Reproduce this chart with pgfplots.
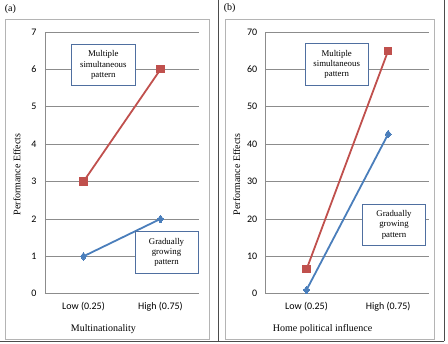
\documentclass[border=0pt]{standalone}
\usepackage{pgfplots}
\pgfplotsset{compat=1.18}
\usepackage{fontspec}
\setmainfont{Liberation Serif}
\newfontfamily\calibri{Carlito}
\definecolor{xred}{HTML}{C0504D}
\definecolor{xblue}{HTML}{4A7EBB}
\definecolor{xgrid}{HTML}{8C8C8C}
\definecolor{xbox}{HTML}{4F6FA0}
\definecolor{xframe}{HTML}{B4B4B4}
\begin{document}
\begin{tikzpicture}
\useasboundingbox (0pt,0pt) rectangle (448pt,344pt);
% panel frames
\draw[xframe,line width=0.9pt] (5pt,5pt) rectangle (209pt,325pt);
\draw[xframe,line width=0.9pt] (225pt,5pt) rectangle (434.5pt,325pt);
\draw[black!70,line width=0.8pt] (218.3pt,2.7pt) -- (218.3pt,344pt);
\draw[black!70,line width=0.8pt] (444.3pt,2.7pt) -- (444.3pt,344pt);
\draw[black!70,line width=0.8pt] (0pt,2.7pt) -- (444.3pt,2.7pt);
\node at (10.3pt,334.7pt) {\fontsize{10}{12}\selectfont (a)};
\node at (229.7pt,335.7pt) {\fontsize{10}{12}\selectfont (b)};

\pgfplotsset{
  myaxis/.style={
    scale only axis,
    anchor=south west,
    height=261.7pt,
    axis x line=bottom, axis y line=left,
    axis line style={xgrid,-,line width=0.7pt},
    xmin=-0.5, xmax=1.5,
    xtick={0,1}, xticklabels={Low (0.25),High (0.75)},
    major tick length=0pt,
    ymajorgrids, grid style={xgrid,line width=0.7pt},
    /pgf/number format/assume math mode=true,
    ticklabel style={font=\calibri\fontsize{10}{12}\selectfont},
    yticklabel style={xshift=-5pt},
    xticklabel style={yshift=-5pt},
    label style={font=\fontsize{10}{12}\selectfont},
    clip=false,
  },
  redline/.style={xred,line width=1.8pt,mark=square*,mark size=3.6pt,mark options={fill=xred,draw=xred,line width=0pt}},
  blueline/.style={xblue,line width=1.8pt,mark=diamond*,mark size=3.9pt,mark options={fill=xblue,draw=xblue,line width=0pt}},
}

\begin{axis}[myaxis,
  at={(45pt,50.3pt)}, width=154pt,
  ymin=0, ymax=7, ytick={0,1,...,7},
  xlabel={Multinationality},
  xlabel style={at={(axis description cs:0.379,-0.134)},anchor=center},
  ylabel={Performance Effects},
  ylabel style={at={(axis description cs:-0.182,0.456)},anchor=center},
]
\addplot[redline] coordinates {(0,3) (1,6)};
\addplot[blueline] coordinates {(0,1) (1,2)};
\end{axis}

\begin{axis}[myaxis,
  at={(265.7pt,50.3pt)}, width=163.3pt,
  ymin=0, ymax=70, ytick={0,10,...,70},
  xlabel={Home political influence},
  xlabel style={at={(axis description cs:0.348,-0.134)},anchor=center},
  ylabel={Performance Effects},
  ylabel style={at={(axis description cs:-0.178,0.456)},anchor=center},
]
\addplot[redline] coordinates {(0,6.5) (1,65)};
\addplot[blueline] coordinates {(0,1) (1,42.7)};
\end{axis}

% annotation boxes
\tikzset{annbox/.style={draw=xbox,line width=0.7pt,fill=white,align=center,minimum width=63.3pt,minimum height=41.5pt,inner sep=0pt,font=\fontsize{8.8}{10.3}\selectfont}}
\node[annbox] at (103.3pt,279pt) {Multiple\\simultaneous\\pattern};
\node[annbox] at (166.5pt,91.5pt) {Gradually\\growing\\pattern};
\node[annbox] at (336.7pt,279.8pt) {Multiple\\simultaneous\\pattern};
\node[annbox] at (394pt,119.2pt) {Gradually\\growing\\pattern};
\end{tikzpicture}
\end{document}
